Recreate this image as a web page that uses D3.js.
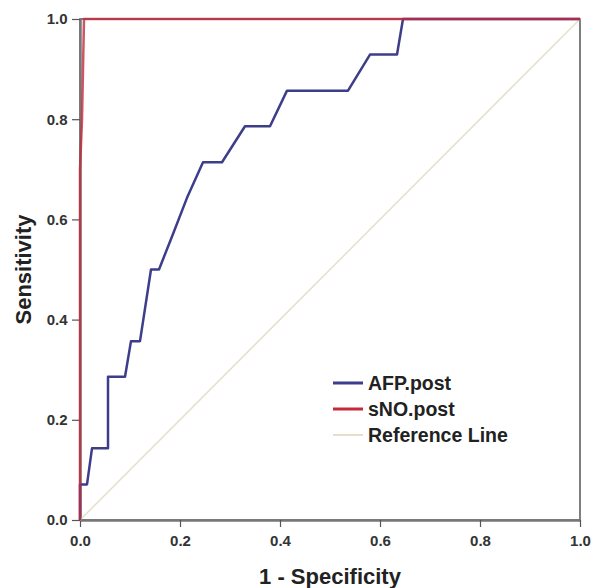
<!DOCTYPE html>
<html>
<head>
<meta charset="utf-8">
<script src="https://cdn.jsdelivr.net/npm/d3@7"></script>
<style>
  body { margin: 0; background: #fff; }
  .chart text { font-family: "Liberation Sans", Arial, sans-serif; }
</style>
</head>
<body>
<div class="chart"></div>
<script>
// ROC points (1 - specificity, sensitivity)
const afpX = [0, 0, 0.014, 0.024, 0.056, 0.056, 0.09, 0.102, 0.12, 0.142, 0.158, 0.186, 0.214, 0.246, 0.284, 0.33, 0.38, 0.414, 0.536, 0.58, 0.634, 0.646, 1];
const afpY = [0, 0.071, 0.071, 0.143, 0.143, 0.286, 0.286, 0.357, 0.357, 0.5, 0.5, 0.571, 0.643, 0.714, 0.714, 0.786, 0.786, 0.857, 0.857, 0.929, 0.929, 1, 1];
const snoX = [0, 0, 0.004, 0.008, 1];
const snoY = [0, 0.7, 0.8, 1, 1];
const refX = [0, 1];
const refY = [0, 1];
const ticks = [0, 0.2, 0.4, 0.6, 0.8, 1.0];
const seriesNames = ["AFP.post", "sNO.post", "Reference Line"];
const seriesColors = ["#3d3d8a", "#c42a3c", "#e6dfcb"];

const W = 593, H = 588;
const margin = { top: 19, left: 80, bottom: 68, right: 13 };
const width = W - margin.left - margin.right,
  height = H - margin.top - margin.bottom;

const svg = d3
  .select(".chart")
  .append("svg")
  .attr("width", W)
  .attr("height", H)
  .append("g")
  .attr("transform", `translate(${margin.left},${margin.top})`);

const xScale = d3.scaleLinear().domain([0, 1]).range([0, width]);
const yScale = d3.scaleLinear().domain([0, 1]).range([height, 0]);

// frame
svg
  .append("rect")
  .attr("width", width)
  .attr("height", height)
  .attr("fill", "none")
  .attr("stroke", "#555")
  .attr("stroke-width", 1.5);

const xAxis = d3.axisBottom(xScale).tickValues(ticks).tickFormat(d3.format(".1f")).tickSize(7).tickSizeOuter(0);
const yAxis = d3.axisLeft(yScale).tickValues(ticks).tickFormat(d3.format(".1f")).tickSize(8).tickSizeOuter(0);

const gx = svg.append("g").attr("transform", `translate(0,${height})`).call(xAxis);
const gy = svg.append("g").call(yAxis);
[gx, gy].forEach((g) => {
  g.select(".domain").attr("stroke", "#777").attr("stroke-width", 2.5);
  g.selectAll(".tick line").attr("stroke", "#555").attr("stroke-width", 1.2);
  g.selectAll(".tick text")
    .attr("fill", "#333")
    .attr("font-size", "15px")
    .attr("font-weight", "bold");
});
gx.selectAll(".tick text").attr("dy", "1.05em");
gy.selectAll(".tick text").attr("dx", "-0.1em");

const line = d3
  .line()
  .x((d) => xScale(d[0]))
  .y((d) => yScale(d[1]));

const series = [
  d3.zip(refX, refY),
  d3.zip(afpX, afpY),
  d3.zip(snoX, snoY),
];
const order = [2, 0, 1];

svg
  .selectAll(".roc")
  .data(series)
  .enter()
  .append("path")
  .attr("class", "roc")
  .attr("d", line)
  .attr("fill", "none")
  .attr("stroke", (d, i) => seriesColors[order[i]])
  .attr("stroke-width", (d, i) => (i === 0 ? 1.5 : 2.5))
  .attr("stroke-opacity", (d, i) => (i === 2 ? 0.8 : 1))
  .attr("stroke-linejoin", "round");

// legend
const legend = svg
  .append("g")
  .selectAll("g")
  .data(seriesNames)
  .enter()
  .append("g")
  .attr("transform", (d, i) => `translate(253,${364 + i * 26})`);

legend
  .append("line")
  .attr("x1", 0)
  .attr("x2", 30)
  .attr("stroke", (d, i) => seriesColors[i])
  .attr("stroke-width", (d, i) => (i === 2 ? 2 : 3));

legend
  .append("text")
  .attr("x", 35)
  .attr("y", 7)
  .attr("font-size", "19.5px")
  .attr("font-weight", "bold")
  .attr("fill", "#222")
  .text((d) => d);

svg
  .append("text")
  .attr("x", width / 2)
  .attr("y", height + 64)
  .attr("text-anchor", "middle")
  .attr("font-size", "22px")
  .attr("font-weight", "bold")
  .attr("fill", "#222")
  .text("1 - Specificity");

svg
  .append("text")
  .attr("transform", `translate(-49,${height / 2}) rotate(-90)`)
  .attr("text-anchor", "middle")
  .attr("font-size", "22px")
  .attr("font-weight", "bold")
  .attr("fill", "#222")
  .text("Sensitivity");
</script>
</body>
</html>
